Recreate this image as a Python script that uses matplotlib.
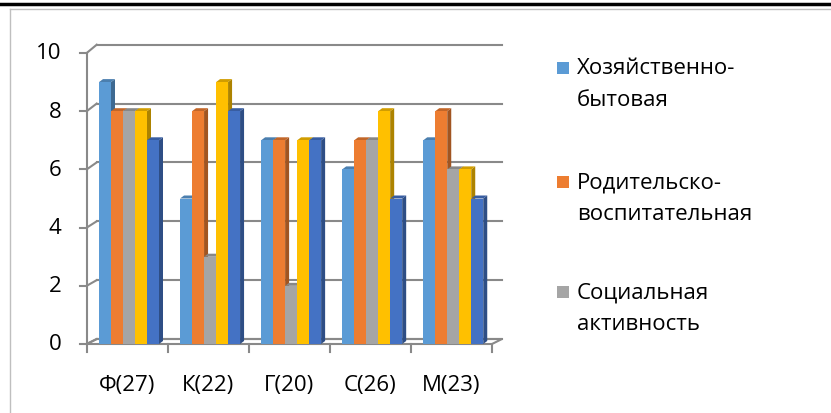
import numpy as np
import matplotlib.pyplot as plt
from matplotlib.patches import Polygon, Rectangle
from matplotlib.lines import Line2D
import matplotlib.colors as mcolors

# data
categories = ['Ф(27)', 'К(22)', 'Г(20)', 'С(26)', 'М(23)']
series_names = ['Хозяйственно-\nбытовая', 'Родительско-\nвоспитательная',
                'Социальная\nактивность', 'Ряд 4', 'Ряд 5']
hoz_byt = [9, 5, 7, 6, 7]
rod_vosp = [8, 8, 7, 7, 8]
soc_akt = [8, 3, 2, 7, 6]
series4 = [8, 9, 7, 8, 6]
series5 = [7, 8, 7, 5, 5]
values = [hoz_byt, rod_vosp, soc_akt, series4, series5]
colors = ['#5B9BD5', '#ED7D31', '#A5A5A5', '#FFC000', '#4472C4']
yticks = [0, 2, 4, 6, 8, 10]

W, H = 831, 414
plt.rcParams['font.family'] = ['Open Sans', 'DejaVu Sans']
FS = 16

fig = plt.figure(figsize=(W / 100, H / 100), dpi=100)

def fx(px):
    return px / W

def fy(py):
    return 1 - py / H

# plot area in pixels (front plane)
x0, x1 = 86.7, 492.0
y0, y1 = 345.0, 54.0
ax = fig.add_axes([fx(x0), fy(y0), fx(x1) - fx(x0), fy(y1) - fy(y0)])
ax.set_xlim(0, 5)
ax.set_ylim(0, 10)
ax.axis('off')

ux = (x1 - x0) / 5      # px per x unit
uy = (y0 - y1) / 10     # px per y unit

grid_c = '#898989'
glw = 1.5
# depth of the back wall
wdx = 10 / ux

def back_y(v):
    return (5 + 29.43 * v) / uy

# floor
fl = Polygon([(0, 0), (5, 0), (5 + wdx, back_y(0)), (wdx, back_y(0))],
             closed=True, facecolor='white', edgecolor=grid_c, lw=glw,
             clip_on=False, zorder=1)
ax.add_patch(fl)

for v in yticks:
    by = back_y(v)
    ax.add_line(Line2D([wdx, 5 + wdx], [by, by], color=grid_c, lw=glw,
                       clip_on=False, zorder=1))
    ax.add_line(Line2D([0, wdx], [v, by], color=grid_c, lw=glw,
                       clip_on=False, zorder=1))
    ax.add_line(Line2D([-7 / ux, 0], [v, v], color=grid_c, lw=glw,
                       clip_on=False, zorder=1))
    ax.text(-25 / ux, v, str(v), ha='right', va='center', fontsize=FS,
            color='#000000')

ax.add_line(Line2D([0, 0], [0, 10], color=grid_c, lw=glw, clip_on=False,
                   zorder=1))
for i in range(len(categories) + 1):
    ax.add_line(Line2D([i, i], [0, -8 / uy], color=grid_c, lw=glw,
                       clip_on=False, zorder=1))

for i, c in enumerate(categories):
    ax.text(i + 0.5, -40 / uy, c, ha='center', va='center', fontsize=FS)

# bars with 3D faces
bw = 12 / ux
off = 12.3 / ux
bdx = 4 / ux
bdy = 3 / uy

def shade(c, k):
    r, g, b = mcolors.to_rgb(c)
    return (r * k, g * k, b * k)

z = 2
for i in range(len(categories)):
    for s in range(len(values)):
        v = values[s][i]
        xl = i + off + s * bw
        xr = xl + bw
        side = Polygon([(xr, 0), (xr + bdx, bdy), (xr + bdx, v + bdy), (xr, v)],
                       closed=True, facecolor=shade(colors[s], 0.68),
                       edgecolor='none', clip_on=False, zorder=z)
        top = Polygon([(xl, v), (xr, v), (xr + bdx, v + bdy), (xl + bdx, v + bdy)],
                      closed=True, facecolor=shade(colors[s], 0.82),
                      edgecolor='none', clip_on=False, zorder=z)
        ax.add_patch(side)
        ax.add_patch(top)
        ax.bar(xl, v, width=bw, align='edge', color=colors[s],
               edgecolor='none', zorder=z, clip_on=False)
        z += 1

# legend (only the first three entries fit in the chart area)
leg_y = [69, 183, 293]
for s in range(3):
    cy = leg_y[s]
    fig.patches.append(Rectangle((fx(557), fy(cy + 6)), fx(12), 12 / H,
                                 transform=fig.transFigure,
                                 facecolor=colors[s], edgecolor='none'))
    lines = series_names[s].split('\n')
    for k, t in enumerate(lines):
        fig.text(fx(577), fy(cy + k * 32), t, ha='left', va='center',
                 fontsize=FS)

# frame
fig.add_artist(Line2D([0, 1], [fy(4.5), fy(4.5)], color='black', lw=2.5,
                      transform=fig.transFigure))
fig.add_artist(Line2D([fx(9.5), 1], [fy(9.5), fy(9.5)], color='#bfbfbf',
                      lw=1, transform=fig.transFigure))
fig.add_artist(Line2D([fx(9.5), fx(9.5)], [fy(9.5), 0], color='#bfbfbf',
                      lw=1, transform=fig.transFigure))

fig.savefig('out.png', dpi=100)
